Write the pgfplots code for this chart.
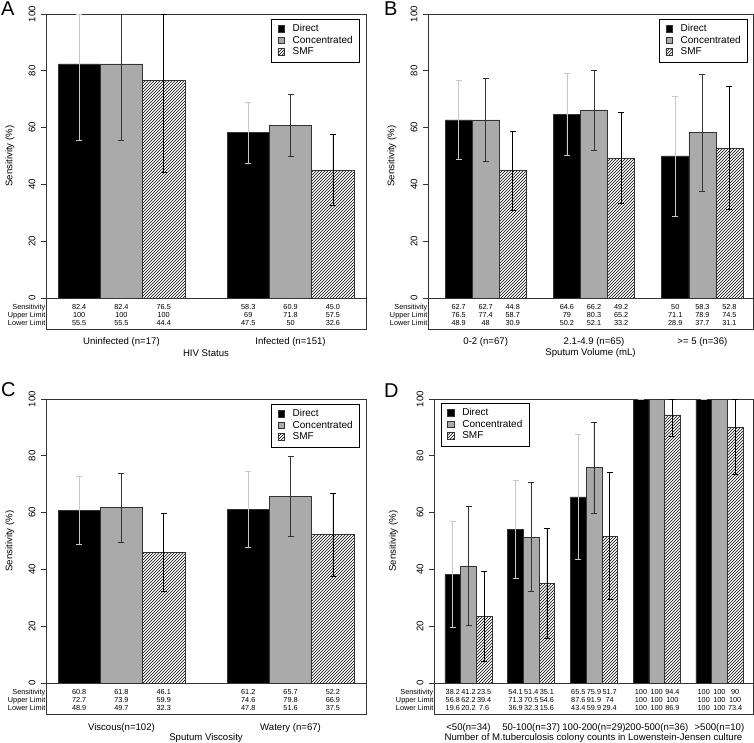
\documentclass[border=0pt]{standalone}
\usepackage{fontspec}
\setmainfont{Liberation Sans}
\usepackage{pgfplots}
\pgfplotsset{compat=1.18}
\usepackage{pgfplotstable}
\usetikzlibrary{patterns}

\definecolor{concgray}{HTML}{AAAAAA}
\definecolor{framegray}{HTML}{333333}
\definecolor{errlight}{HTML}{C8C8C8}
\newcommand\tblfont{\fontsize{7.3}{7.7}\selectfont}
\newcommand\lblfont{\fontsize{9.6}{11}\selectfont}

% g = group, d/c/s = Direct/Concentrated/SMF, y = sensitivity, u/l = upper/lower limit
\pgfplotstableread{
g dy du dl cy cu cl sy su sl
1 82.4 100 55.5 82.4 100 55.5 76.5 100 44.4
2 58.3 69 47.5 60.9 71.8 50 45.0 57.5 32.6
}\tabA
\pgfplotstableread{
g dy du dl cy cu cl sy su sl
1 62.7 76.5 48.9 62.7 77.4 48 44.8 58.7 30.9
2 64.6 79 50.2 66.2 80.3 52.1 49.2 65.2 33.2
3 50 71.1 28.9 58.3 78.9 37.7 52.8 74.5 31.1
}\tabB
\pgfplotstableread{
g dy du dl cy cu cl sy su sl
1 60.8 72.7 48.9 61.8 73.9 49.7 46.1 59.9 32.3
2 61.2 74.6 47.8 65.7 79.8 51.6 52.2 66.9 37.5
}\tabC
\pgfplotstableread{
g dy du dl cy cu cl sy su sl
1 38.2 56.8 19.6 41.2 62.2 20.2 23.5 39.4 7.6
2 54.1 71.3 36.9 51.4 70.5 32.3 35.1 54.6 15.6
3 65.5 87.6 43.4 75.9 91.9 59.9 51.7 74 29.4
4 100 100 100 100 100 100 94.4 100 86.9
5 100 100 100 100 100 100 90 100 73.4
}\tabD

\pgfplotsset{
  panel/.style={scale only axis, height=315pt, ymin=-10.92, ymax=100,
    clip=false, ytick={0,20,...,100}, tick align=outside, ytick pos=left,
    major tick length=5pt, xtick style={draw=none},
    axis line style={framegray, line width=0.8pt},
    ytick style={framegray, line width=0.8pt},
    /pgf/number format/assume math mode=true,
    yticklabel style={rotate=90, anchor=south, font=\lblfont, yshift=2pt},
    xticklabel style={font=\lblfont, yshift=-0.5pt},
    every axis x label/.style={at={(rel axis cs:0.5,0)}, anchor=center, yshift=-24.5pt, font=\lblfont},
    every axis y label/.style={at={(axis description cs:-0.1125,0.549)}, rotate=90, anchor=center, font=\lblfont},
    ylabel={Sensitivity (\%)},
    legend style={draw=black, line width=0.6pt, font=\fontsize{10}{11}\selectfont,
      cells={anchor=west}, inner xsep=6pt, inner ysep=4pt, column sep=7pt,
      nodes={inner sep=1pt, text height=7.5pt, text depth=2pt}},
    legend image code/.code={\draw[#1, line width=0.5pt] (0pt,-3pt) rectangle (6.5pt,3.5pt);},
  },
  dirbar/.style={ybar, bar width=1, bar shift=0pt, fill=black, draw=framegray, line width=0.6pt,
    error bars/.cd, y dir=both, y explicit,
    error bar style={errlight, line width=0.7pt}, error mark options={rotate=90, errlight, mark size=3pt, line width=0.7pt}},
  conbar/.style={ybar, bar width=1, bar shift=0pt, fill=concgray, draw=framegray, line width=0.6pt,
    error bars/.cd, y dir=both, y explicit,
    error bar style={black!80, line width=0.7pt}, error mark options={rotate=90, black!80, mark size=3pt, line width=0.7pt}},
  smfbar/.style={ybar, bar width=1, bar shift=0pt, pattern=north east lines, pattern color=black, draw=framegray, line width=0.6pt,
    error bars/.cd, y dir=both, y explicit,
    error bar style={black, line width=0.7pt}, error mark options={rotate=90, black, mark size=3pt, line width=0.7pt}},
  tbl/.style={draw=none, mark=none, forget plot,
    point meta=explicit symbolic,
    nodes near coords={\pgfplotspointmeta\\\pgfmathprintnumber{\vu}\\\pgfmathprintnumber{\vl}},
    nodes near coords align={anchor=north},
    every node near coord/.style={anchor=north, inner sep=0pt, yshift=-6.5pt, align=center, font=\tblfont, text=black}},
}

% one series: style, column prefix, offset inside the group, table
\newcommand\onebar[4]{%
  \addplot[#1] table[x expr=4*\thisrow{g}-#3, y=#2y,
    y error plus expr=\thisrow{#2u}-\thisrow{#2y},
    y error minus expr=\thisrow{#2y}-\thisrow{#2l}] {#4};
  \addplot[tbl, visualization depends on={\thisrow{#2u}\as\vu},
    visualization depends on={\thisrow{#2l}\as\vl}]
    table[x expr=4*\thisrow{g}-#3, y expr=0, meta=#2y] {#4};
}
\newcommand\allbars[1]{%
  \onebar{dirbar}{d}{2.5}{#1}
  \onebar{conbar}{c}{1.5}{#1}
  \onebar{smfbar}{s}{0.5}{#1}
  \draw[framegray, line width=0.6pt] (axis cs:\pgfkeysvalueof{/pgfplots/xmin},0) -- (axis cs:\pgfkeysvalueof{/pgfplots/xmax},0);
  \node[anchor=north east, align=right, inner sep=0pt, font=\tblfont, yshift=-6.5pt, xshift=-0.5pt]
    at (axis cs:\pgfkeysvalueof{/pgfplots/xmin},0) {Sensitivity\\Upper Limit\\Lower Limit};
  \legend{Direct,Concentrated,SMF}
}

\begin{document}
\begin{tikzpicture}
\useasboundingbox (0,0) rectangle (754pt,-742pt);

\begin{axis}[panel, at={(46pt,-14pt)}, anchor=north west, width=320pt,
  xmin=0.716, xmax=8.284, xtick={2.5,6.5},
  xticklabels={Uninfected (n=17), Infected (n=151)}, xlabel={HIV Status},
  legend style={at={(rel axis cs:1,1)}, anchor=north east, xshift=-6pt, yshift=-5pt}]
  \allbars{\tabA}
\end{axis}

\begin{axis}[panel, at={(428pt,-14pt)}, anchor=north west, width=325pt,
  xmin=0.37, xmax=12.37, xtick={2.5,6.5,10.5},
  xticklabels={0-2 (n=67), 2.1-4.9 (n=65), >= 5 (n=36)}, xlabel={Sputum Volume (mL)},
  every axis y label/.append style={at={(axis description cs:-0.1108,0.549)}},
  legend style={at={(rel axis cs:1,1)}, anchor=north east, xshift=-5pt, yshift=-5pt}]
  \allbars{\tabB}
\end{axis}

\begin{axis}[panel, at={(46pt,-399pt)}, anchor=north west, width=320pt,
  xmin=0.716, xmax=8.284, xtick={2.5,6.5},
  xticklabels={Viscous(n=102), Watery (n=67)}, xlabel={Sputum Viscosity},
  legend style={at={(rel axis cs:1,1)}, anchor=north east, xshift=-6pt, yshift=-5pt}]
  \allbars{\tabC}
\end{axis}

\begin{axis}[panel, at={(434pt,-399pt)}, anchor=north west, width=319pt,
  xmin=0.30, xmax=20.64, xtick={2.5,6.5,10.5,14.5,18.5},
  xticklabels={<50(n=34), 50-100(n=37), 100-200(n=29), 200-500(n=36), >500(n=10)},
  xlabel={Number of M.tuberculosis colony counts in Lowenstein-Jensen culture},
  every axis y label/.append style={at={(axis description cs:-0.127,0.549)}},
  legend style={at={(rel axis cs:0,1)}, anchor=north west, xshift=7pt, yshift=-4pt}]
  \allbars{\tabD}
\end{axis}

\node[anchor=base west, inner sep=0pt, font=\fontsize{20}{24}\selectfont] at (1pt,-15pt) {A};
\node[anchor=base west, inner sep=0pt, font=\fontsize{20}{24}\selectfont] at (384pt,-15pt) {B};
\node[anchor=base west, inner sep=0pt, font=\fontsize{20}{24}\selectfont] at (1pt,-396pt) {C};
\node[anchor=base west, inner sep=0pt, font=\fontsize{20}{24}\selectfont] at (384pt,-397pt) {D};
\end{tikzpicture}
\end{document}
